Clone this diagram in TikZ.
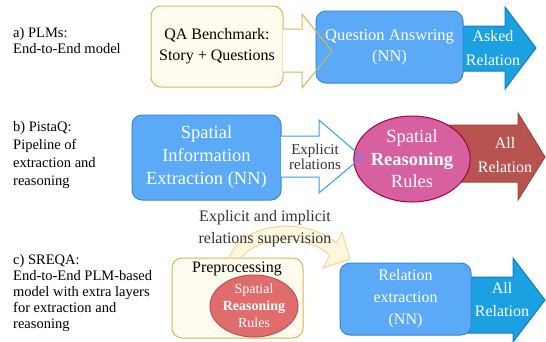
\documentclass[tikz,border=0pt]{standalone}
\usepackage{fontspec}
\setmainfont{Liberation Serif}
\usepackage{tikz}
\usepackage{xcolor}
\usetikzlibrary{positioning, shapes.geometric, arrows.meta}
\definecolor{bench-cream}{HTML}{FFFCEF}
\definecolor{bench-gold}{HTML}{D6B656}
\definecolor{nn-blue}{HTML}{5AAAF8}
\definecolor{nn-rim}{HTML}{3A86D4}
\definecolor{out-blue}{HTML}{1BA1E2}
\definecolor{out-rim}{HTML}{0E7FBF}
\definecolor{expl-blue}{HTML}{3399FF}
\definecolor{rule-pink}{HTML}{D660A0}
\definecolor{rule-rim}{HTML}{A50040}
\definecolor{out-red}{HTML}{B85450}
\definecolor{out-redrim}{HTML}{A0443F}
\definecolor{inner-red}{HTML}{E06C6C}
\definecolor{sup-cream}{HTML}{FFF4D6}
\definecolor{sup-gold}{HTML}{EED79C}
\definecolor{label-gray}{HTML}{333333}

\begin{document}
\begin{tikzpicture}[x=1pt, y=-1pt]
				\tikzset{box/.style={rectangle, draw, line width=1pt, rounded corners=10pt, inner sep=0pt, align=center}}
				\tikzset{nn/.style={box, fill=nn-blue, draw=nn-rim, text=white}}
				\tikzset{fat/.style={line width=1pt, line join=miter}}
				\tikzset{caption/.style={anchor=north west, inner sep=0pt, align=left}}
				\tikzset{whitetext/.style={text=white, align=center, inner sep=0pt, font=\fontsize{16}{23}\selectfont}}
				\useasboundingbox (0,0) rectangle (546,341);
				
				% a) PLMs
				\node[caption, font=\fontsize{14.5}{16}\selectfont] (capa) at (13,27) {a) PLMs:\\End-to-End model};
				\node[box, fill=bench-cream, draw=bench-gold, minimum width=132pt, minimum height=81pt, font=\fontsize{16}{21}\selectfont] (bench) at (217,46.5) {QA Benchmark:\\Story + Questions};
				\fill[white] (283,29) -- (302,29) -- (302,14) -- (332,51) -- (302,88) -- (302,72) -- (283,72) -- cycle;
				\draw[fat, draw=out-rim, fill=out-blue] 
				(455,26) 
				-- (505,26) 
				-- (505,7) 
				-- (536,48) 
				-- (505,89) 
				-- (505,71) 
				-- (455,71) 
				-- cycle;
				\node[nn, minimum width=147pt, minimum height=72pt, font=\fontsize{16.5}{21}\selectfont] (qa) at (389.5,47) {Question Answring\\(NN)};
				\draw[fat, draw=bench-gold] (283,29) -- (302,29) -- (302,14) -- (332,51) -- (302,88) -- (302,72) -- (283,72);
				\node[whitetext, font=\fontsize{16}{24}\selectfont] (asked) at (493,48) {Asked\\Relation};
				
				% b) PistaQ
				\node[caption, font=\fontsize{14.5}{18}\selectfont] (capb) at (13,121) {b) PistaQ:\\Pipeline of\\extraction and\\reasoning};
				\node[nn, minimum width=149pt, minimum height=85pt, font=\fontsize{18.5}{23}\selectfont] (extract) at (206.5,157.5) {Spatial\\Information\\Extraction (NN)};
				\fill[white] (281,136) -- (319,136) -- (319,120) -- (362,157) -- (319,193) -- (319,177) -- (281,177) -- cycle;
				\draw[fat, draw=out-redrim, fill=out-red] 
				(440,125) 
				-- (518,125) 
				-- (518,113) 
				-- (545,157) 
				-- (518,200) 
				-- (518,182) 
				-- (440,182) 
				-- cycle;
				\node[ellipse, draw=rule-rim, fill=rule-pink, line width=1pt, minimum width=114pt, minimum height=86pt, inner sep=0pt, text=white, align=center, font=\fontsize{18.5}{22.5}\selectfont] (rules) at (412,159) {Spatial\\\textbf{Reasoning}\\Rules};
				\draw[fat, draw=expl-blue] (281,136) -- (319,136) -- (319,120) -- (362,157) -- (319,193) -- (319,177) -- (281,177);
				\node[align=center, inner sep=0pt, text=label-gray, font=\fontsize{15}{15.5}\selectfont] (explicit) at (315,157) {Explicit\\relations};
				\node[whitetext, font=\fontsize{16}{24}\selectfont] (allb) at (505,155) {All\\Relation};
				
				% c) SREQA
				\node[caption, font=\fontsize{14.5}{16}\selectfont] (capc) at (13,254) {c) SREQA:\\End-to-End PLM-based\\model with extra layers\\for extraction and\\reasoning};
				\node[box, fill=bench-cream, draw=bench-gold, minimum width=131pt, minimum height=80pt] (prep) at (237.5,298) {};
				\node[inner sep=0pt, font=\fontsize{16}{18}\selectfont] (preptitle) at (237,269) {Preprocessing};
				\node[ellipse, draw=out-red, fill=inner-red, line width=1pt, minimum width=86pt, minimum height=52pt, inner sep=0pt, text=white, align=center, font=\fontsize{14}{17}\selectfont] (innerrules) at (254,306) {Spatial\\\textbf{Reasoning}\\Rules};
				\draw[fat, draw=sup-gold, fill=sup-cream, fill opacity=0.8] 
				(229,258) 
				.. controls (242,222) and (305,216) .. (336.3,242.8) 
				-- (342,232) 
				-- (350,259) 
				-- (323,268) 
				-- (329.7,255.4) 
				.. controls (305,232) and (258,236) .. (241,258) 
				-- cycle;
				\node[align=center, inner sep=0pt, text=label-gray, font=\fontsize{16}{22}\selectfont] (supervision) at (265,229) {Explicit and implicit\\relations supervision};
				\draw[fat, draw=out-rim, fill=out-blue] 
				(460,277) 
				-- (513,277) 
				-- (513,258) 
				-- (545,300) 
				-- (513,342) 
				-- (513,333) 
				-- (460,333) 
				-- cycle;
				\node[nn, minimum width=131pt, minimum height=72pt, font=\fontsize{16}{22}\selectfont] (relex) at (405.5,299) {Relation\\extraction\\(NN)};
				\node[whitetext, font=\fontsize{16}{23}\selectfont] (allc) at (502,299.5) {All\\Relation};
\end{tikzpicture}
\end{document}
